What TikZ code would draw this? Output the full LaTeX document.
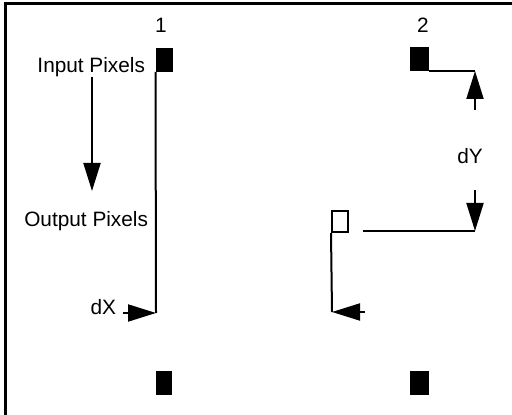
\documentclass[tikz,border=0pt]{standalone}
\usepackage{fontspec}
\setmainfont{Liberation Sans}
\usetikzlibrary{arrows.meta, positioning}

\begin{document}
\begin{tikzpicture}[
    x=0.5pt, y=-0.5pt, line width=1pt,
    pix/.style={draw, fill=black, inner sep=0pt, minimum width=7.5pt, minimum height=11pt},
    opix/.style={draw, fill=white, inner sep=0pt, minimum width=8pt, minimum height=10.5pt},
    lbl/.style={font=\fontsize{10.4}{12}\selectfont, inner sep=0pt},
    moveto/.style={-{Triangle[length=14pt, width=8.5pt]}}
]
    \useasboundingbox (0,0) rectangle (512,415);

    % Frame (cut off at right and bottom)
    \draw[line width=1.5pt] (5,415) -- (5,4) -- (512,4);

    % Input pixels
    \node[pix] (pix1) at (164,60) {};
    \node[pix, minimum width=8.5pt] (pix2) at (419.5,59) {};
    \node[lbl, anchor=base] (n1) at (161,33) {1};
    \node[lbl, anchor=base] (n2) at (423,33) {2};

    % Output pixels
    \node[pix, minimum width=7pt] (out1) at (164,383) {};
    \node[pix, minimum width=8.5pt] (out2) at (419.5,383) {};
    \node[opix] (open) at (340,221.5) {};

    % Labels
    \node[lbl, anchor=base east] (inlbl) at (146,73) {Input Pixels};
    \node[lbl, anchor=base east] (outlbl) at (149,227) {Output Pixels};
    \node[lbl, anchor=base east] (dx) at (117,315) {dX};
    \node[lbl, anchor=base] (dy) at (470,164) {dY};

    % Corner points
    \coordinate (ydn) at (475,110);
    \coordinate (yup) at (475,190);
    \coordinate (c1) at (156,313);
    \coordinate (c2) at (ydn |- pix2.south east);
    \coordinate (c3) at (475,231);
    \coordinate (c4) at (332,312);
    \coordinate (gap) at (363,231);
    \coordinate (xin) at (123,313);
    \coordinate (xout) at (365,312);
    \coordinate (flowtop) at (92,77);
    \coordinate (flowbot) at (92,191);

    % Direction of flow
    \draw[moveto] (flowtop) -- (flowbot);

    % Shift of pixel 1
    \draw (pix1.south west) -- (c1);
    \draw[moveto] (xin) -- (c1);

    % Shift of pixel 2
    \draw (pix2.south east) -- (c2);
    \draw[moveto] (ydn) -- (c2);
    \draw[moveto] (yup) -- (c3);
    \draw (gap) -- (c3);
    \draw (open.south west) -- (c4);
    \draw[moveto] (xout) -- (c4);
\end{tikzpicture}
\end{document}
